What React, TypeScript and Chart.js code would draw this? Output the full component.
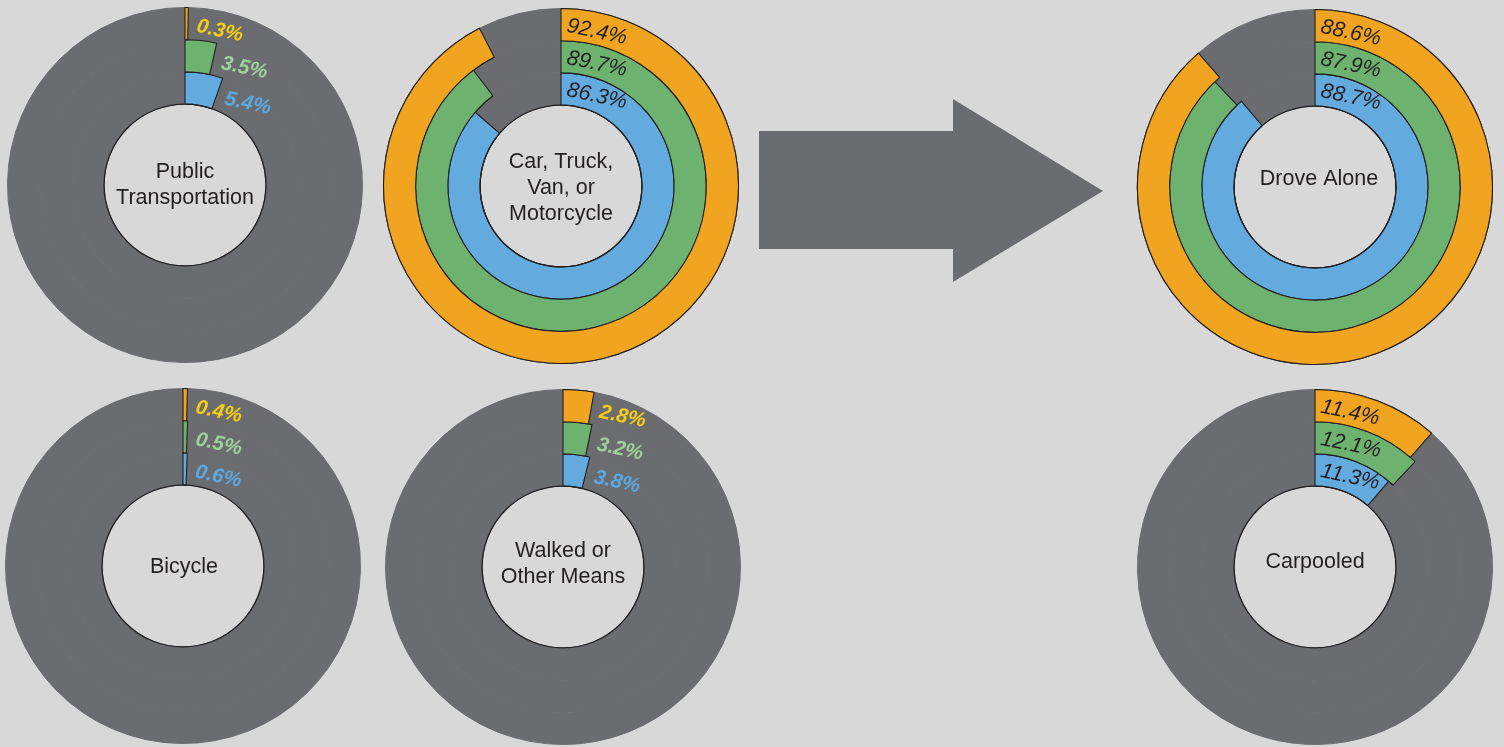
import React, { useEffect, useRef } from 'react';
import { Chart, registerables } from 'chart.js';

Chart.register(...registerables);

// ---------------- data ----------------
const CATEGORIES = [
  'Public Transportation',
  'Car, Truck, Van, or Motorcycle',
  'Drove Alone',
  'Bicycle',
  'Walked or Other Means',
  'Carpooled',
];
const CENTER_TITLES = [
  ['Public', 'Transportation'],
  ['Car, Truck,', 'Van, or', 'Motorcycle'],
  ['Drove Alone'],
  ['Bicycle'],
  ['Walked or', 'Other Means'],
  ['Carpooled'],
];
const RING_NAMES = ['Outer ring', 'Middle ring', 'Inner ring'];
const OUTER_VALUES = [0.3, 92.4, 88.6, 0.4, 2.8, 11.4];
const MIDDLE_VALUES = [3.5, 89.7, 87.9, 0.5, 3.2, 12.1];
const INNER_VALUES = [5.4, 86.3, 88.7, 0.6, 3.8, 11.3];
const SLICE_LABELS = ['Share', 'Remainder'];

// ---------------- layout & style ----------------
const LAYOUT = [
  { cx: 185, cy: 185, mode: 'outside', tdx: 0, tdy: 0 },
  { cx: 561, cy: 186, mode: 'inside', tdx: 0, tdy: 2 },
  { cx: 1315, cy: 187, mode: 'inside', tdx: 4, tdy: -8 },
  { cx: 183, cy: 566, mode: 'outside', tdx: 1, tdy: 1 },
  { cx: 563, cy: 567, mode: 'outside', tdx: 0, tdy: -3 },
  { cx: 1315, cy: 567, mode: 'inside', tdx: 0, tdy: -5 },
];
const CANVAS = 370;
const BG = '#d8d8d8';
const GRAY = '#6b6c70';
const INK = '#231f20';
const RING_COLORS = ['#f0a41f', '#6db26f', '#63abdf'];
const OUTSIDE_LABEL_COLORS = ['#f6cd15', '#9dd09a', '#5aa9e3'];
const FONT = '"Liberation Sans", Arial, Helvetica, sans-serif';
const LABEL_TILT = (12 * Math.PI) / 180;

function makeDecorPlugin(idx: number) {
  const lay = LAYOUT[idx];
  return {
    id: 'ringDecor' + idx,
    afterDatasetsDraw(chart: any) {
      const ctx = chart.ctx as CanvasRenderingContext2D;
      const n = chart.data.datasets.length;
      // redraw coloured shares (inner to outer) so their outlines sit on top of the gray remainders
      for (let d = n - 1; d >= 0; d--) {
        const arc = chart.getDatasetMeta(d).data[0];
        arc.draw(ctx, chart.chartArea);
      }
      const innerArc: any = chart.getDatasetMeta(n - 1).data[0];
      const cx = innerArc.x;
      const cy = innerArc.y;
      // centre hole outline
      ctx.save();
      ctx.beginPath();
      ctx.arc(cx, cy, innerArc.innerRadius, 0, Math.PI * 2);
      ctx.lineWidth = 1.3;
      ctx.strokeStyle = INK;
      ctx.stroke();
      ctx.restore();

      // value labels
      for (let d = 0; d < n; d++) {
        const arc: any = chart.getDatasetMeta(d).data[0];
        const value = chart.data.datasets[d].data[0] as number;
        const text = value.toFixed(1) + '%';
        const rm = (arc.innerRadius + arc.outerRadius) / 2;
        let x: number;
        let y: number;
        ctx.save();
        if (lay.mode === 'inside') {
          x = cx + 6;
          y = cy - rm + 1;
          ctx.font = `italic 21.5px ${FONT}`;
          ctx.fillStyle = INK;
        } else {
          const r = rm - 2;
          const ang = arc.endAngle + 9 / r;
          x = cx + r * Math.cos(ang);
          y = cy + r * Math.sin(ang);
          ctx.font = `italic bold 20.5px ${FONT}`;
          ctx.fillStyle = OUTSIDE_LABEL_COLORS[d];
        }
        ctx.translate(x, y);
        ctx.rotate(LABEL_TILT);
        ctx.textAlign = 'left';
        ctx.textBaseline = 'middle';
        ctx.fillText(text, 0, 0);
        ctx.restore();
      }

      // centre title
      const lines = CENTER_TITLES[idx];
      const lh = 26;
      ctx.save();
      ctx.font = `21.5px ${FONT}`;
      ctx.fillStyle = INK;
      ctx.textAlign = 'center';
      ctx.textBaseline = 'middle';
      const y0 = cy + lay.tdy - ((lines.length - 1) * lh) / 2;
      lines.forEach((ln, i) => ctx.fillText(ln, cx + lay.tdx, y0 + i * lh));
      ctx.restore();
    },
  };
}

export default function App() {
  const refs = useRef<(HTMLCanvasElement | null)[]>([]);

  useEffect(() => {
    document.body.style.margin = '0';
    document.body.style.background = BG;
    const series = [OUTER_VALUES, MIDDLE_VALUES, INNER_VALUES];
    const charts: Chart[] = [];
    CATEGORIES.forEach((cat, idx) => {
      const canvas = refs.current[idx];
      if (!canvas) return;
      const datasets = series.map((vals, d) => ({
        label: `${cat} – ${RING_NAMES[d]}`,
        data: [vals[idx], +(100 - vals[idx]).toFixed(1)],
        backgroundColor: [RING_COLORS[d], GRAY],
        borderColor: [INK, GRAY],
        borderWidth: [1.1, 1],
        hoverOffset: 0,
      }));
      const chart = new Chart(canvas, {
        type: 'doughnut',
        data: { labels: SLICE_LABELS, datasets },
        options: {
          responsive: false,
          maintainAspectRatio: false,
          animation: false,
          events: [],
          radius: 177.5,
          cutout: '45.6%',
          layout: { padding: 0 },
          plugins: { legend: { display: false }, tooltip: { enabled: false } },
        } as any,
        plugins: [makeDecorPlugin(idx)],
      });
      charts.push(chart);
    });
    return () => charts.forEach((c) => c.destroy());
  }, []);

  return (
    <div
      style={{
        position: 'absolute',
        left: 0,
        top: 0,
        width: 1504,
        height: 747,
        background: BG,
        overflow: 'hidden',
      }}
    >
      <svg
        width={1504}
        height={747}
        style={{ position: 'absolute', left: 0, top: 0 }}
      >
        <polygon
          points="759,131 953,131 953,99 1103,191 953,282 953,249 759,249"
          fill={GRAY}
        />
      </svg>
      {LAYOUT.map((lay, i) => (
        <canvas
          key={i}
          ref={(el) => {
            refs.current[i] = el;
          }}
          width={CANVAS}
          height={CANVAS}
          style={{
            position: 'absolute',
            left: lay.cx - CANVAS / 2,
            top: lay.cy - CANVAS / 2,
            width: CANVAS,
            height: CANVAS,
          }}
        />
      ))}
    </div>
  );
}
